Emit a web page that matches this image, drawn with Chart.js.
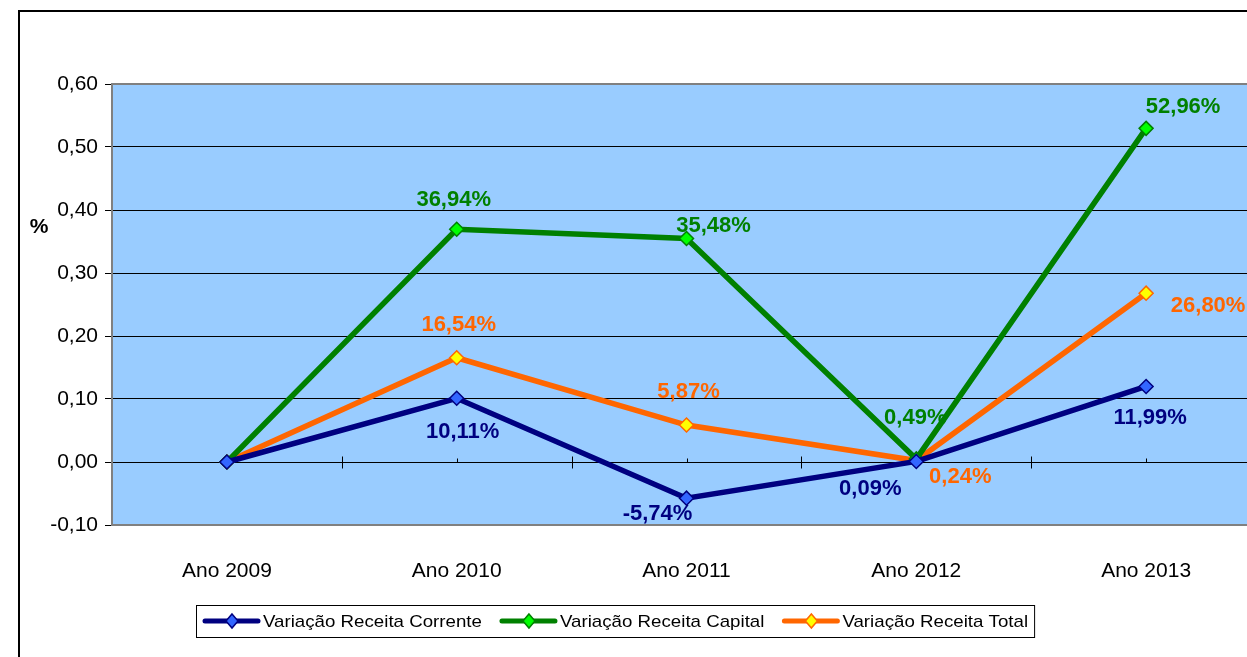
<!DOCTYPE html>
<html>
<head>
<meta charset="utf-8">
<script src="https://cdn.jsdelivr.net/npm/chart.js@4/dist/chart.umd.min.js"></script>
<style>
  html, body { margin: 0; padding: 0; overflow: hidden; background: #fff; }
  #wrap { width: 1300px; height: 657px; }
</style>
</head>
<body>
<div id="wrap"><canvas id="myChart" width="1300" height="657"></canvas></div>
<script>
const categories = ["Ano 2009", "Ano 2010", "Ano 2011", "Ano 2012", "Ano 2013"]
const receitaCorrente = [0, 0.1011, -0.0574, 0.0009, 0.1199]
const receitaCapital = [0, 0.3694, 0.3548, 0.0049, 0.5296]
const receitaTotal = [0, 0.1654, 0.0587, 0.0024, 0.2680]
const yTicks = [-0.1, 0, 0.1, 0.2, 0.3, 0.4, 0.5, 0.6]

// where each value label sits relative to its point (first point has no label)
const labelOffsets = [
    [null, [6, 34], [-29, 16], [-46, 28], [4, 31]],
    [null, [-3, -29], [27, -13], [-1, -41], [37, -21]],
    [null, [2, -33], [2, -33], [44, 16], [62, 13]]
]

const FONT = "'Liberation Sans', Arial, sans-serif"
const STRETCH = 1.1 // legend text in the original is a bit wider than Arial

function pct(v) {
    return (v * 100).toFixed(2).replace(".", ",") + "%"
}

function wideText(ctx, text, x, y, k) {
    ctx.save()
    ctx.translate(x, y)
    ctx.scale(k, 1)
    ctx.fillText(text, 0, 0)
    ctx.restore()
}

const drawExtras = {
    id: "drawExtras",
    beforeDraw(chart) {
        const { ctx, chartArea } = chart
        ctx.save()
        ctx.fillStyle = "#fff"
        ctx.fillRect(0, 0, chart.width, chart.height)
        ctx.strokeStyle = "#000"
        ctx.lineWidth = 2
        ctx.strokeRect(19, 11, chart.width + 20, chart.height + 20)
        ctx.fillStyle = "#99CCFF"
        ctx.fillRect(chartArea.left, chartArea.top, chartArea.right - chartArea.left, chartArea.bottom - chartArea.top)
        ctx.restore()
    },
    beforeDatasetsDraw(chart) {
        const { ctx, chartArea, scales } = chart
        ctx.save()
        // plot frame top / bottom
        ctx.strokeStyle = "#808080"
        ctx.lineWidth = 2
        ctx.beginPath()
        ctx.moveTo(chartArea.left, chartArea.top)
        ctx.lineTo(chartArea.right, chartArea.top)
        ctx.moveTo(chartArea.left, chartArea.bottom)
        ctx.lineTo(chartArea.right, chartArea.bottom)
        ctx.stroke()
        // tick marks on the zero line
        const y0 = Math.round(scales.y.getPixelForValue(0)) + 0.5
        ctx.strokeStyle = "#000"
        ctx.lineWidth = 1
        ctx.beginPath()
        for (let i = 0; i < categories.length; i++) {
            const x = Math.round(scales.x.getPixelForValue(i)) + 0.5
            if (i > 0) {
                ctx.moveTo(x, y0 - 4)
                ctx.lineTo(x, y0)
            }
            if (i < categories.length - 1) {
                const xb = Math.round((scales.x.getPixelForValue(i) + scales.x.getPixelForValue(i + 1)) / 2) + 0.5
                ctx.moveTo(xb, y0 - 6)
                ctx.lineTo(xb, y0 + 6)
            }
        }
        ctx.stroke()
        ctx.restore()
    },
    afterDatasetsDraw(chart) {
        const { ctx } = chart
        ctx.save()
        ctx.font = "bold 22px " + FONT
        ctx.textAlign = "center"
        ctx.textBaseline = "middle"
        chart.data.datasets.forEach(function (ds, di) {
            const meta = chart.getDatasetMeta(di)
            ds.data.forEach(function (v, i) {
                const off = labelOffsets[di][i]
                if (!off) return
                const pt = meta.data[i]
                ctx.fillStyle = ds.labelColor
                ctx.fillText(pct(v), pt.x + off[0], pt.y + off[1])
            })
        })
        ctx.restore()
    },
    afterDraw(chart) {
        const { ctx } = chart
        ctx.save()
        // axis title
        ctx.fillStyle = "#000"
        ctx.font = "bold 21px " + FONT
        ctx.textAlign = "center"
        ctx.textBaseline = "middle"
        ctx.fillText("%", 39, 227)

        // legend
        ctx.font = "17px " + FONT
        ctx.textAlign = "left"
        const boxLeft = 196, boxTop = 605, boxH = 32
        const midY = boxTop + boxH / 2
        let x = 203
        chart.data.datasets.forEach(function (ds) {
            ctx.strokeStyle = ds.borderColor
            ctx.lineWidth = 5
            ctx.lineCap = "round"
            ctx.beginPath()
            ctx.moveTo(x + 2, midY)
            ctx.lineTo(x + 55, midY)
            ctx.stroke()
            const cx = x + 29
            ctx.beginPath()
            ctx.moveTo(cx, midY - 7)
            ctx.lineTo(cx + 6, midY)
            ctx.lineTo(cx, midY + 7)
            ctx.lineTo(cx - 6, midY)
            ctx.closePath()
            ctx.fillStyle = ds.pointBackgroundColor
            ctx.fill()
            ctx.lineWidth = 1.5
            ctx.strokeStyle = ds.pointBorderColor
            ctx.stroke()
            ctx.fillStyle = "#000"
            wideText(ctx, ds.label, x + 60, midY + 1, STRETCH)
            x += 60 + ctx.measureText(ds.label).width * STRETCH + 18
        })
        ctx.strokeStyle = "#000"
        ctx.lineWidth = 1
        ctx.strokeRect(boxLeft + 0.5, boxTop + 0.5, x - 18 + 6 - boxLeft, boxH)
        ctx.restore()
    }
}

function makeSet(label, values, line, fill, textColor) {
    return {
        label: label,
        data: values,
        borderColor: line,
        backgroundColor: line,
        borderWidth: 5.5,
        tension: 0,
        pointStyle: "rectRot",
        pointRadius: 7,
        pointBackgroundColor: fill,
        pointBorderColor: line,
        pointBorderWidth: 1.5,
        labelColor: textColor
    }
}

const ctx = document.getElementById("myChart")

new Chart(ctx, {
    type: "line",
    data: {
        labels: categories,
        datasets: [
            makeSet("Variação Receita Corrente", receitaCorrente, "#000080", "#3366FF", "#000080"),
            makeSet("Variação Receita Capital", receitaCapital, "#008000", "#00FF00", "#008000"),
            makeSet("Variação Receita Total", receitaTotal, "#FF6600", "#FFFF00", "#FF6600")
        ]
    },
    options: {
        responsive: false,
        animation: false,
        devicePixelRatio: 1,
        layout: { padding: { left: 0, top: 84, right: 39, bottom: 0 } },
        plugins: {
            legend: { display: false },
            tooltip: { enabled: false }
        },
        scales: {
            x: {
                offset: true,
                grid: { display: false },
                border: { display: false },
                ticks: { color: "#000", font: { family: FONT, size: 21 }, padding: 26, maxRotation: 0 },
                afterFit(scale) { scale.height = 132 }
            },
            y: {
                min: -0.1,
                max: 0.6,
                afterBuildTicks(scale) { scale.ticks = yTicks.map(v => ({ value: v })) },
                ticks: {
                    color: "#000",
                    font: { family: FONT, size: 21 },
                    padding: 7,
                    callback: v => v.toFixed(2).replace(".", ",")
                },
                grid: { color: "#000", lineWidth: 1, tickLength: 7 },
                border: { color: "#808080", width: 2 },
                afterFit(scale) { scale.width = 112 }
            }
        }
    },
    plugins: [drawExtras]
})
</script>
</body>
</html>
